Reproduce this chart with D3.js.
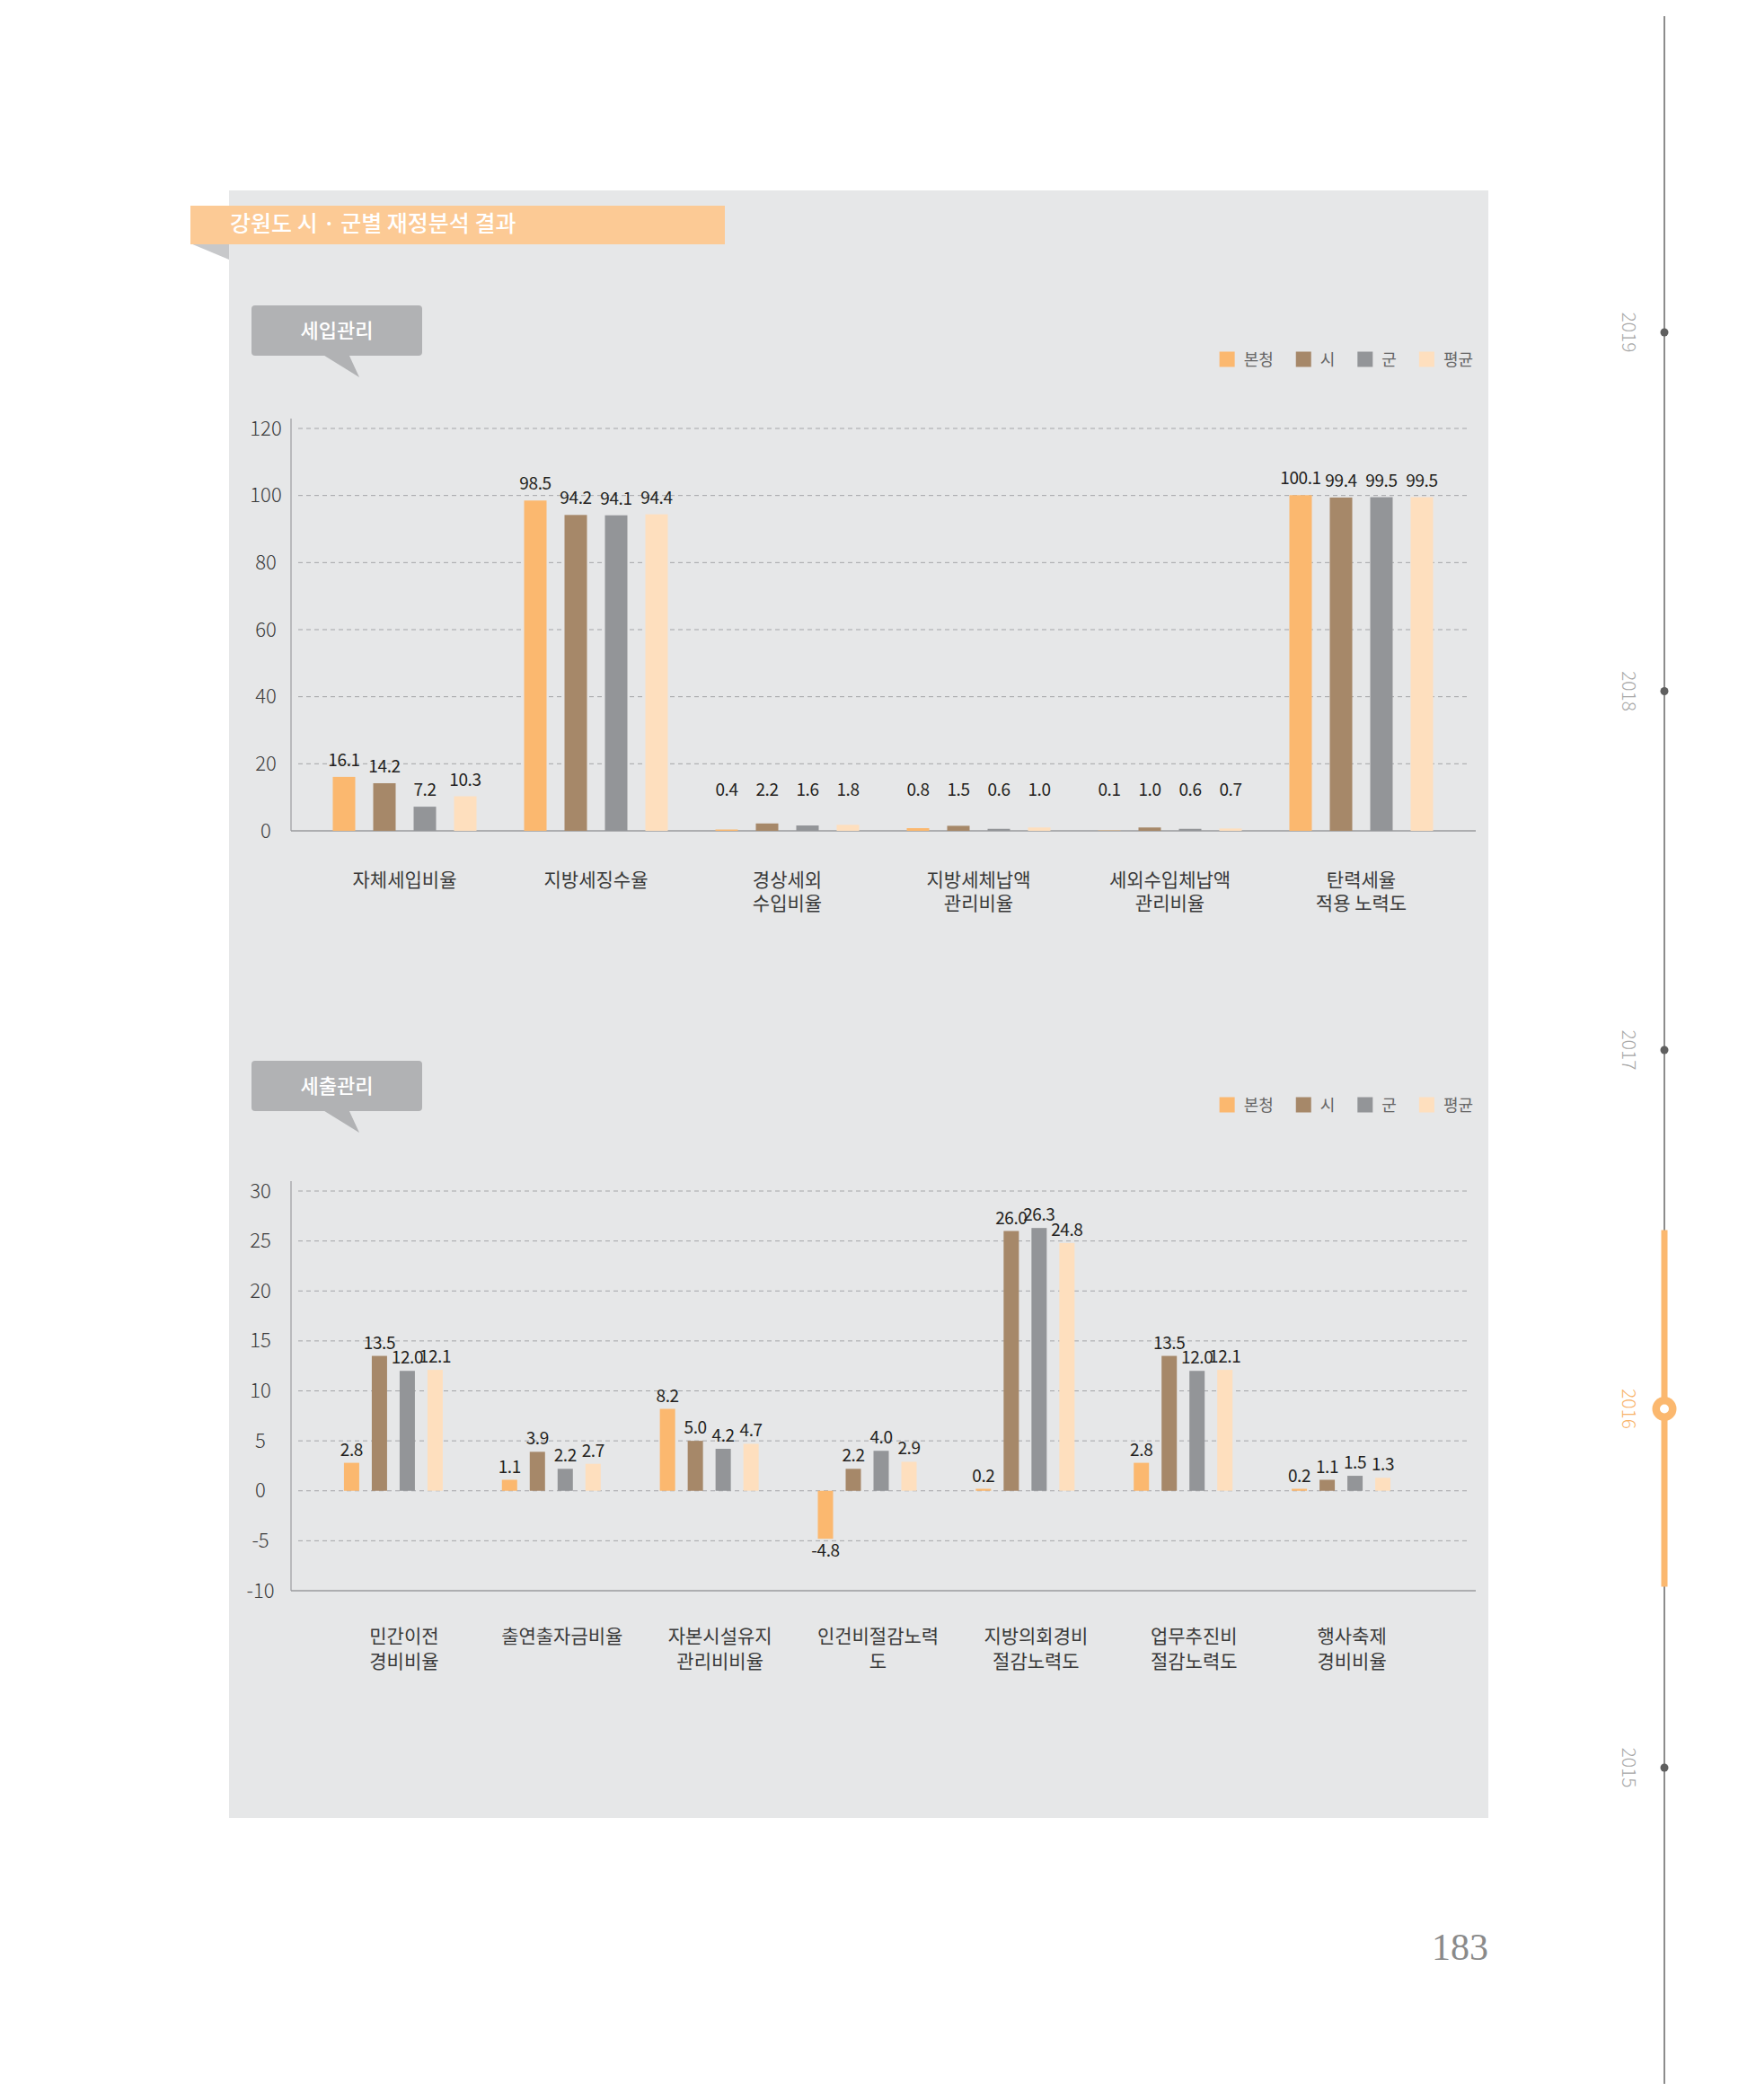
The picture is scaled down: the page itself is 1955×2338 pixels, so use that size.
<!DOCTYPE html>
<html>
<head>
<meta charset="utf-8">
<script src="https://cdn.jsdelivr.net/npm/d3@7"></script>
<style>
  html, body { margin: 0; padding: 0; background: #ffffff; }
  svg { display: block; }
  text { font-family: 'Noto Sans CJK KR', 'Noto Sans', sans-serif; }
</style>
</head>
<body>
<svg id="page" width="1955" height="2338"></svg>
<script>
// ---------------- DATA ----------------
const seriesNames = ["본청", "시", "군", "평균"];
const seriesColors = ["#fbb86f", "#a68869", "#939598", "#fedfbe"];

const revenueTitle = "세입관리";
const revenueCategories = [
  ["자체세입비율"], ["지방세징수율"], ["경상세외", "수입비율"],
  ["지방세체납액", "관리비율"], ["세외수입체납액", "관리비율"], ["탄력세율", "적용 노력도"]
];
const revenueBoncheong = [16.1, 98.5, 0.4, 0.8, 0.1, 100.1];
const revenueSi        = [14.2, 94.2, 2.2, 1.5, 1.0, 99.4];
const revenueGun       = [7.2, 94.1, 1.6, 0.6, 0.6, 99.5];
const revenueAvg       = [10.3, 94.4, 1.8, 1.0, 0.7, 99.5];
const revenueTicks     = [0, 20, 40, 60, 80, 100, 120];

const expenseTitle = "세출관리";
const expenseCategories = [
  ["민간이전", "경비비율"], ["출연출자금비율"], ["자본시설유지", "관리비비율"],
  ["인건비절감노력", "도"], ["지방의회경비", "절감노력도"], ["업무추진비", "절감노력도"], ["행사축제", "경비비율"]
];
const expenseBoncheong = [2.8, 1.1, 8.2, -4.8, 0.2, 2.8, 0.2];
const expenseSi        = [13.5, 3.9, 5.0, 2.2, 26.0, 13.5, 1.1];
const expenseGun       = [12.0, 2.2, 4.2, 4.0, 26.3, 12.0, 1.5];
const expenseAvg       = [12.1, 2.7, 4.7, 2.9, 24.8, 12.1, 1.3];
const expenseTicks     = [-10, -5, 0, 5, 10, 15, 20, 25, 30];

const pageTitle = "강원도 시 · 군별 재정분석 결과";
const timelineYears = ["2019", "2018", "2017", "2016", "2015"];
const currentYear = "2016";
const pageNumber = "183";

// ---------------- HELPERS ----------------
const loc = d3.formatLocale({decimal: ".", thousands: ",", grouping: [3], currency: ["", ""], minus: "-"});
const fmt1 = loc.format(".1f");
const fmtInt = loc.format("d");

const svg = d3.select("#page");
svg.append("rect").attr("width", 1955).attr("height", 2338).attr("fill", "#ffffff");

// Panel background
svg.append("rect").attr("x", 255).attr("y", 212).attr("width", 1402).attr("height", 1812).attr("fill", "#e6e7e8");

// Title ribbon
svg.append("polygon").attr("points", "212,271 255,271 255,289").attr("fill", "#c7c8ca");
svg.append("rect").attr("x", 212).attr("y", 229).attr("width", 595).attr("height", 43).attr("fill", "#fcca95");
svg.append("text").attr("x", 256).attr("y", 258).attr("font-size", 25).attr("font-weight", 500)
  .attr("fill", "#ffffff").text(pageTitle);

function drawChart(o) {
  const g = svg.append("g");

  // Section label box with pointer
  g.append("polygon")
    .attr("points", `358,${o.boxY + 54} 388,${o.boxY + 54} 400,${o.boxY + 80}`)
    .attr("fill", "#b1b2b4");
  g.append("rect").attr("x", 280).attr("y", o.boxY).attr("width", 190).attr("height", 56)
    .attr("rx", 4).attr("fill", "#b1b2b4");
  g.append("text").attr("x", 375).attr("y", o.boxY + 36).attr("text-anchor", "middle")
    .attr("font-size", 22).attr("font-weight", 500).attr("fill", "#ffffff").text(o.title);

  // Legend (right aligned)
  const lg = g.append("g");
  const items = lg.selectAll("g.item").data(seriesNames).join("g").attr("class", "item");
  items.append("rect").attr("width", 17).attr("height", 17).attr("y", o.legendY - 8.5)
    .attr("fill", (d, i) => seriesColors[i]);
  items.append("text").attr("x", 27).attr("y", o.legendY + 6.5).attr("font-size", 18)
    .attr("fill", "#666666").text(d => d);
  let xpos = 0;
  const offs = [];
  items.each(function () {
    offs.push(xpos);
    const w = this.querySelector("text").getComputedTextLength();
    xpos += 27 + w + 25;
  });
  const total = xpos - 25;
  const startX = 1640 - total;
  items.attr("transform", (d, i) => `translate(${startX + offs[i]},0)`);

  // Scales
  const x = d3.scaleBand().domain(d3.range(o.categories.length)).range(o.xRange).padding(0);
  const pad = 1 - o.barW / o.barStep;
  const xs = d3.scaleBand().domain(d3.range(seriesNames.length))
    .range([-2 * o.barStep, 2 * o.barStep]).paddingInner(pad).paddingOuter(pad / 2);
  const y = d3.scaleLinear().domain(o.yDomain).range(o.yRange);

  // Gridlines
  g.append("g").selectAll("line").data(o.ticks.filter(t => t !== o.yDomain[0])).join("line")
    .attr("x1", 332).attr("x2", 1633)
    .attr("y1", d => y(d)).attr("y2", d => y(d))
    .attr("stroke", "#a4a5a8").attr("stroke-width", 1).attr("stroke-dasharray", "5,4");

  // Axes lines
  g.append("line").attr("x1", 324).attr("x2", 324).attr("y1", y(o.yDomain[1]) - 11).attr("y2", y(o.yDomain[0]))
    .attr("stroke", "#9a9b9e").attr("stroke-width", 1.2);
  g.append("line").attr("x1", 324).attr("x2", 1643).attr("y1", y(o.yDomain[0])).attr("y2", y(o.yDomain[0]))
    .attr("stroke", "#9a9b9e").attr("stroke-width", 1.5);

  // Y tick labels through d3 axis
  const ax = g.append("g").attr("transform", `translate(${o.tickX},0)`)
    .call(d3.axisLeft(y).tickValues(o.ticks).tickSize(0).tickPadding(0).tickFormat(fmtInt));
  ax.select(".domain").remove();
  ax.selectAll("text").attr("text-anchor", "middle").attr("font-size", 22).attr("font-weight", 300)
    .attr("fill", "#3a3a3a").style("font-family", "'Noto Sans CJK KR', 'Noto Sans', sans-serif");

  // Data rows
  const rows = o.categories.map((c, i) => ({i, vals: o.series.map(s => s[i])}));
  const groups = g.selectAll("g.cat").data(rows).join("g").attr("class", "cat")
    .attr("transform", d => `translate(${x(d.i) + x.bandwidth() / 2},0)`);

  const cells = groups.selectAll("g.bar").data(d => d.vals.map((v, s) => ({v, s}))).join("g").attr("class", "bar");
  cells.append("rect")
    .attr("x", d => xs(d.s))
    .attr("width", xs.bandwidth())
    .attr("y", d => Math.min(y(d.v), y(0)))
    .attr("height", d => Math.abs(y(d.v) - y(0)))
    .attr("fill", d => seriesColors[d.s]);
  cells.append("text")
    .attr("x", d => xs(d.s) + xs.bandwidth() / 2)
    .attr("y", d => o.labelY(d.v, y))
    .attr("text-anchor", "middle").attr("font-size", o.valueFont).attr("fill", "#231f20")
    .attr("letter-spacing", -0.4)
    .text(d => fmt1(d.v));

  // Category labels
  const cl = groups.append("text").attr("text-anchor", "middle").attr("font-size", 21)
    .attr("fill", "#3a3a3a").attr("y", y(o.yDomain[0]) + o.catOffset)
    .attr("transform", `translate(${o.catShift},0)`);
  cl.selectAll("tspan").data(d => o.categories[d.i]).join("tspan")
    .attr("x", 0).attr("dy", (d, k) => k === 0 ? 0 : o.catLine).text(d => d);
}

drawChart({
  title: revenueTitle, boxY: 340, legendY: 400,
  categories: revenueCategories,
  series: [revenueBoncheong, revenueSi, revenueGun, revenueAvg],
  ticks: revenueTicks, yDomain: [0, 120], yRange: [925, 477],
  xRange: [344, 1622], barW: 25, barStep: 45, tickX: 296,
  valueFont: 19,
  labelY: (v, y) => Math.min(y(v) - 12, y(10.5)),
  catOffset: 62, catLine: 26, catShift: 0
});

drawChart({
  title: expenseTitle, boxY: 1181, legendY: 1230,
  categories: expenseCategories,
  series: [expenseBoncheong, expenseSi, expenseGun, expenseAvg],
  ticks: expenseTicks, yDomain: [-10, 30], yRange: [1771, 1326],
  xRange: [350, 1581], barW: 17, barStep: 31, tickX: 290,
  valueFont: 19,
  labelY: (v, y) => v >= 0 ? y(v) - 8 : y(v) + 20,
  catOffset: 58, catLine: 28, catShift: 12
});

// ---------------- Right timeline ----------------
const tl = svg.append("g");
const ty = d3.scalePoint().domain(timelineYears).range([370, 1968]);
tl.append("line").attr("x1", 1853).attr("x2", 1853).attr("y1", 18).attr("y2", 2320)
  .attr("stroke", "#8c8c8c").attr("stroke-width", 2);
tl.append("line").attr("x1", 1853).attr("x2", 1853)
  .attr("y1", ty(currentYear) - 199).attr("y2", ty(currentYear) + 198)
  .attr("stroke", "#fbb86f").attr("stroke-width", 7);
tl.selectAll("circle.dot").data(timelineYears.filter(d => d !== currentYear)).join("circle")
  .attr("class", "dot").attr("cx", 1853).attr("cy", d => ty(d)).attr("r", 4.5).attr("fill", "#5f5f5f");
tl.append("circle").attr("cx", 1853).attr("cy", ty(currentYear)).attr("r", 13.5).attr("fill", "#fbb86f");
tl.append("circle").attr("cx", 1853).attr("cy", ty(currentYear)).attr("r", 5).attr("fill", "#ffffff");
tl.selectAll("text.year").data(timelineYears).join("text").attr("class", "year")
  .attr("transform", d => `translate(1813,${ty(d)}) rotate(90)`)
  .attr("text-anchor", "middle").attr("dy", "0.35em")
  .attr("font-size", 21).attr("font-weight", 300)
  .attr("fill", d => d === currentYear ? "#f8b36a" : "#a8a8a8")
  .text(d => d);

// Page number
svg.append("text").attr("x", 1657).attr("y", 2182).attr("text-anchor", "end")
  .attr("font-size", 42).attr("fill", "#8a8a8a")
  .style("font-family", "'Liberation Serif', 'DejaVu Serif', serif").text(pageNumber);
</script>
</body>
</html>
